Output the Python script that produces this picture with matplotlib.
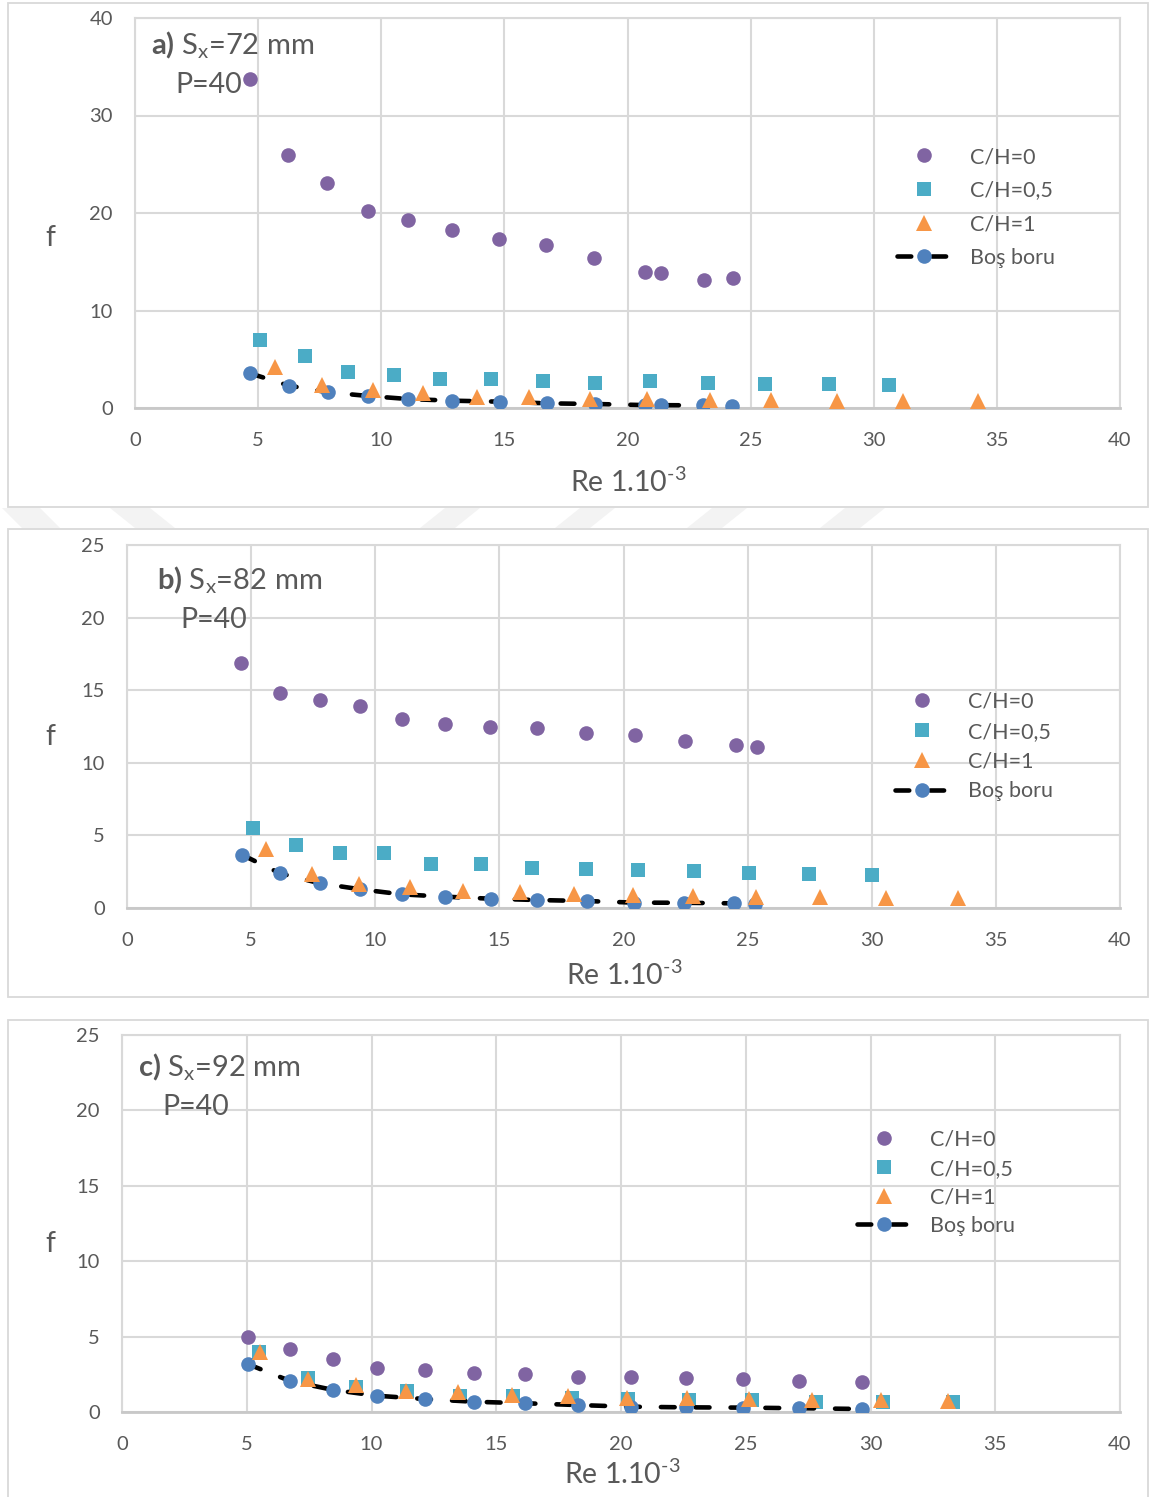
import matplotlib
matplotlib.use("Agg")
import matplotlib.pyplot as plt
from matplotlib.patches import Rectangle, Polygon
from matplotlib.lines import Line2D

plt.rcParams['font.family'] = ['Lato', 'DejaVu Sans']
plt.rcParams['mathtext.fontset'] = 'custom'
plt.rcParams['mathtext.rm'] = 'Lato'
plt.rcParams['mathtext.bf'] = 'Lato:bold'
plt.rcParams['mathtext.it'] = 'Lato:italic'

# ---------------- data: Re*1e-3 and friction factor f ----------------
# a) Sx = 72 mm
a_re0 = [4.67, 6.21, 7.80, 9.46, 11.09, 12.87, 14.78, 16.69, 18.64, 20.71, 21.36, 23.11, 24.28]
a_f0 = [33.7, 25.9, 23.1, 20.2, 19.3, 18.3, 17.3, 16.7, 15.4, 13.9, 13.8, 13.1, 13.3]
a_re05 = [5.08, 6.90, 8.65, 10.52, 12.39, 14.46, 16.57, 18.68, 20.91, 23.27, 25.58, 28.18, 30.62]
a_f05 = [7.0, 5.3, 3.7, 3.4, 3.0, 3.0, 2.8, 2.6, 2.8, 2.6, 2.5, 2.5, 2.4]
a_re1 = [5.69, 7.58, 9.68, 11.71, 13.88, 16.01, 18.48, 20.78, 23.35, 25.81, 28.49, 31.20, 34.22]
a_f1 = [4.24, 2.36, 1.85, 1.57, 1.16, 1.10, 0.95, 0.92, 0.85, 0.82, 0.75, 0.72, 0.72]
a_reb = [4.67, 6.25, 7.85, 9.48, 11.10, 12.89, 14.82, 16.72, 18.68, 20.71, 21.36, 23.08, 24.23]
a_fb = [3.56, 2.29, 1.61, 1.23, 0.92, 0.75, 0.65, 0.48, 0.41, 0.30, 0.29, 0.27, 0.25]

# b) Sx = 82 mm
b_re0 = [4.59, 6.16, 7.77, 9.39, 11.08, 12.81, 14.62, 16.52, 18.49, 20.46, 22.48, 24.53, 25.38]
b_f0 = [16.9, 14.8, 14.3, 13.9, 13.0, 12.7, 12.5, 12.4, 12.05, 11.9, 11.5, 11.2, 11.1]
b_re05 = [5.09, 6.79, 8.58, 10.37, 12.23, 14.25, 16.33, 18.48, 20.57, 22.83, 25.07, 27.49, 30.0]
b_f05 = [5.49, 4.34, 3.77, 3.77, 3.03, 3.01, 2.78, 2.69, 2.62, 2.55, 2.41, 2.34, 2.27]
b_re1 = [5.59, 7.44, 9.36, 11.40, 13.55, 15.83, 18.01, 20.40, 22.81, 25.33, 27.92, 30.56, 33.46]
b_f1 = [4.04, 2.32, 1.65, 1.42, 1.19, 1.08, 0.96, 0.90, 0.83, 0.78, 0.73, 0.71, 0.67]
b_reb = [4.65, 6.16, 7.77, 9.39, 11.07, 12.81, 14.65, 16.50, 18.52, 20.44, 22.44, 24.46, 25.30]
b_fb = [3.65, 2.39, 1.70, 1.29, 0.94, 0.78, 0.64, 0.55, 0.48, 0.37, 0.36, 0.32, 0.25]

# c) Sx = 92 mm
c_re0 = [5.04, 6.73, 8.47, 10.21, 12.14, 14.11, 16.15, 18.29, 20.39, 22.59, 24.88, 27.15, 29.65]
c_f0 = [4.95, 4.16, 3.49, 2.94, 2.79, 2.57, 2.50, 2.34, 2.30, 2.23, 2.17, 2.08, 2.01]
c_re05 = [5.50, 7.44, 9.38, 11.43, 13.55, 15.66, 18.02, 20.29, 22.74, 25.24, 27.82, 30.49, 33.32]
c_f05 = [4.0, 2.23, 1.68, 1.39, 1.06, 1.08, 0.95, 0.86, 0.80, 0.80, 0.68, 0.68, 0.68]
c_re1 = [5.53, 7.44, 9.38, 11.37, 13.45, 15.62, 17.89, 20.23, 22.63, 25.14, 27.67, 30.42, 33.09]
c_f1 = [4.0, 2.19, 1.79, 1.41, 1.35, 1.13, 1.06, 0.91, 0.91, 0.84, 0.80, 0.80, 0.73]
c_reb = [5.04, 6.73, 8.47, 10.21, 12.14, 14.11, 16.15, 18.29, 20.39, 22.59, 24.88, 27.15, 29.65]
c_fb = [3.18, 2.06, 1.46, 1.08, 0.86, 0.68, 0.58, 0.46, 0.35, 0.31, 0.29, 0.25, 0.20]

x_ticks = [0, 5, 10, 15, 20, 25, 30, 35, 40]
series_labels = ['C/H=0', 'C/H=0,5', 'C/H=1', 'Boş boru']
panel_titles = [r'$\mathbf{a)}$ S$_{\mathrm{x}}$=72 mm',
                r'$\mathbf{b)}$ S$_{\mathrm{x}}$=82 mm',
                r'$\mathbf{c)}$ S$_{\mathrm{x}}$=92 mm']
p_label = 'P=40'
x_label = r'Re 1.10$^{\text{-3}}$'
y_label = 'f'

# ---------------- styling ----------------
W, H = 1152, 1497
PURPLE = '#8064A2'
TEAL = '#4BACC6'
ORANGE = '#F79646'
BLUE = '#4F81BD'
GRAY_TXT = '#595959'
GRID = '#d9d9d9'

fig = plt.figure(figsize=(W / 100, H / 100), dpi=100)
fig.patch.set_facecolor('white')


def fx(x):
    return x / W


def fy(y):
    return 1 - y / H


# faint diagonal stripes showing in the gap between the first two frames
stripes = [
    [(2, 508), (40, 508), (60, 528), (22, 528)],
    [(110, 508), (150, 508), (175, 528), (135, 528)],
    [(445, 508), (480, 508), (455, 528), (420, 528)],
    [(580, 508), (615, 508), (590, 528), (555, 528)],
    [(712, 508), (747, 508), (722, 528), (687, 528)],
    [(845, 508), (885, 508), (860, 528), (820, 528)],
]
for pts in stripes:
    fig.add_artist(Polygon([(fx(px), fy(py)) for px, py in pts], closed=True,
                           transform=fig.transFigure, fc='#f3f3f3', ec='none', zorder=-3))

panels = [
    dict(data=(a_re0, a_f0, a_re05, a_f05, a_re1, a_f1, a_reb, a_fb),
         box=(135, 18, 1120, 408), ylim=40, ystep=10,
         frame=(8, 3, 1148, 507),
         title=(151, 45), p=(175, 85), xl=(628, 482), yl=(50, 238),
         leg=(897, 147, 0.63)),
    dict(data=(b_re0, b_f0, b_re05, b_f05, b_re1, b_f1, b_reb, b_fb),
         box=(127, 545, 1120, 908), ylim=25, ystep=5,
         frame=(8, 529, 1148, 997),
         title=(157, 580), p=(180, 620), xl=(624, 975), yl=(50, 737),
         leg=(895, 692, 0.45)),
    dict(data=(c_re0, c_f0, c_re05, c_f05, c_re1, c_f1, c_reb, c_fb),
         box=(122, 1035, 1120, 1412), ylim=25, ystep=5,
         frame=(8, 1020, 1148, 1500),
         title=(138, 1067), p=(162, 1107), xl=(622, 1474), yl=(50, 1244),
         leg=(857, 1130, 0.40)),
]

for i, pn in enumerate(panels):
    x0, y0, x1, y1 = pn['frame']
    fig.add_artist(Rectangle((fx(x0), fy(y1)), (x1 - x0) / W, (y1 - y0) / H,
                             transform=fig.transFigure, fill=True, fc='white',
                             ec=GRID, lw=1.3, zorder=-2))

    l, t, r, b = pn['box']
    ax = fig.add_axes([fx(l), fy(b), (r - l) / W, (b - t) / H])
    ax.set_zorder(2)
    ax.set_facecolor('none')
    re0, f0, re05, f05, re1, f1, reb, fb = pn['data']

    ax.plot(re0, f0, ls='none', marker='o', ms=10.5, mew=0, color=PURPLE, zorder=3)
    ax.plot(re05, f05, ls='none', marker='s', ms=10.5, mew=0, color=TEAL, zorder=3)
    ax.plot(reb, fb, color='black', lw=3.3, dashes=(3.0, 4.6), dash_capstyle='round',
            marker='o', ms=10.5, mew=0, mfc=BLUE, zorder=4)
    ax.plot(re1, f1, ls='none', marker='^', ms=11, mew=0, color=ORANGE, zorder=5)

    ax.set_xlim(0, 40)
    ax.set_ylim(0, pn['ylim'])
    ax.set_xticks(x_ticks)
    ax.set_yticks(list(range(0, pn['ylim'] + 1, pn['ystep'])))
    ax.tick_params(axis='both', length=0, labelsize=14.5, labelcolor=GRAY_TXT)
    ax.tick_params(axis='y', pad=16)
    ax.tick_params(axis='x', pad=17)
    ax.grid(True, color=GRID, lw=1.5, zorder=0)
    ax.set_axisbelow(True)
    for side in ('top', 'right', 'left'):
        ax.spines[side].set_color(GRID)
        ax.spines[side].set_linewidth(1.5)
    ax.spines['bottom'].set_color('#c8c8c8')
    ax.spines['bottom'].set_linewidth(2.0)

    # titles and axis labels
    tx, ty = pn['title']
    fig.text(fx(tx), fy(ty), panel_titles[i], fontsize=21, color=GRAY_TXT,
             ha='left', va='center')
    px, py = pn['p']
    fig.text(fx(px), fy(py), p_label, fontsize=20.5, color=GRAY_TXT,
             ha='left', va='center')
    xx, xy = pn['xl']
    fig.text(fx(xx), fy(xy), x_label, fontsize=20.5, color=GRAY_TXT,
             ha='center', va='center')
    yx, yy = pn['yl']
    fig.text(fx(yx), fy(yy), y_label, fontsize=20.5, color=GRAY_TXT,
             ha='center', va='center')

    # legend
    handles = [
        Line2D([], [], ls='none', marker='o', ms=10.5, mew=0, color=PURPLE),
        Line2D([], [], ls='none', marker='s', ms=10.5, mew=0, color=TEAL),
        Line2D([], [], ls='none', marker='^', ms=11, mew=0, color=ORANGE),
        Line2D([], [], color='black', lw=3.3, dashes=(3.0, 4.6), dash_capstyle='round',
               marker='o', ms=10.5, mew=0, mfc=BLUE),
    ]
    lx, ly, lsp = pn['leg']
    leg = ax.legend(handles, series_labels, loc='upper left',
                    bbox_to_anchor=(fx(lx), fy(ly)), bbox_transform=fig.transFigure,
                    frameon=False, fontsize=15.5, labelcolor=GRAY_TXT,
                    handlelength=2.55, handletextpad=0.85, labelspacing=lsp,
                    borderpad=0, borderaxespad=0)
    leg.set_zorder(6)

fig.savefig('out.png', dpi=100, facecolor='white')
